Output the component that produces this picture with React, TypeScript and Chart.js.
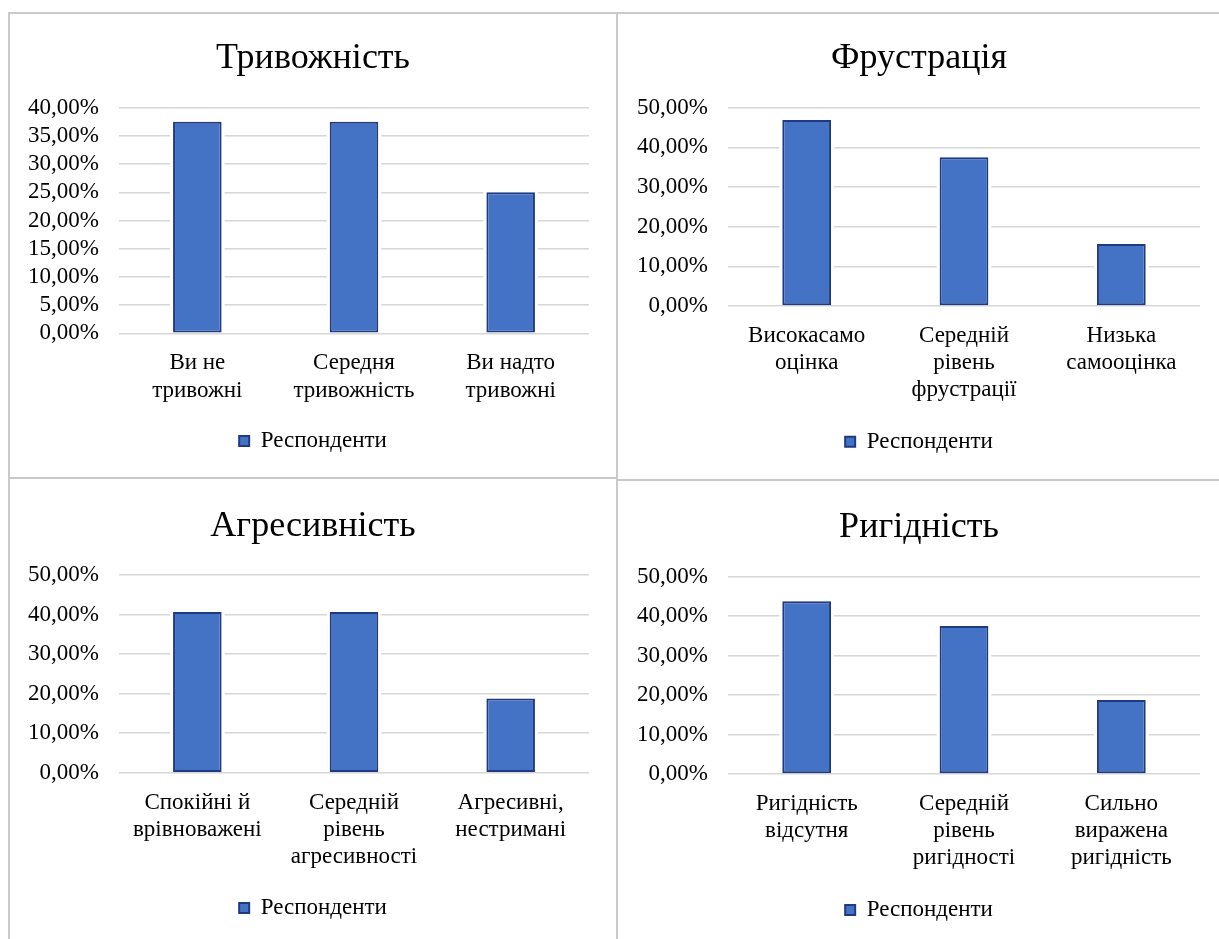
import React, { useEffect, useRef } from 'react';
import { Chart, registerables } from 'chart.js';

Chart.register(...registerables);

// ---- data ----
const seriesLabel = 'Респонденти';

const anxietyTitle = 'Тривожність';
const anxietyCategories = [['Ви не', 'тривожні'], ['Середня', 'тривожність'], ['Ви надто', 'тривожні']];
const anxietyValues = [37.5, 37.5, 25];
const anxietyMax = 40;
const anxietyStep = 5;

const frustrationTitle = 'Фрустрація';
const frustrationCategories = [['Високасамо', 'оцінка'], ['Середній', 'рівень', 'фрустрації'], ['Низька', 'самооцінка']];
const frustrationValues = [46.88, 37.5, 15.63];

const aggressionTitle = 'Агресивність';
const aggressionCategories = [['Спокійні й', 'врівноважені'], ['Середній', 'рівень', 'агресивності'], ['Агресивні,', 'нестримані']];
const aggressionValues = [40.63, 40.63, 18.75];

const rigidityTitle = 'Ригідність';
const rigidityCategories = [['Ригідність', 'відсутня'], ['Середній', 'рівень', 'ригідності'], ['Сильно', 'виражена', 'ригідність']];
const rigidityValues = [43.75, 37.5, 18.75];

const commonMax = 50;
const commonStep = 10;

// ---- styling ----
const FONT = '"Liberation Serif", "Times New Roman", serif';
const TEXT = '#000000';
const BAR_FILL = '#4472C4';
const BAR_EDGE = '#1F3A80';
const GRID = '#d6d6d6';
const FRAME = '#c9c9c9';

const formatPercent = (v: number | string) => Number(v).toFixed(2).replace('.', ',') + '%';

// white halo around each bar so the gridlines stop just short of it
const barHalo = {
  id: 'barHalo',
  beforeDatasetsDraw(chart: any) {
    const ctx = chart.ctx;
    const meta = chart.getDatasetMeta(0);
    ctx.save();
    ctx.fillStyle = '#ffffff';
    meta.data.forEach((el: any) => {
      const { x, y, base, width } = el.getProps(['x', 'y', 'base', 'width'], true);
      const gap = 3;
      ctx.fillRect(x - width / 2 - gap, y - gap, width + gap * 2, base - y + gap - 1.5);
    });
    ctx.restore();
  },
};

type PanelProps = {
  title: string;
  categories: string[][];
  values: number[];
  max: number;
  step: number;
  left: number;
  top: number;
  width: number;
  height: number;
  padTop: number;
  padRight: number;
  padBottom: number;
  xHeight: number;
};

function BarPanel(p: PanelProps) {
  const ref = useRef<HTMLCanvasElement | null>(null);

  useEffect(() => {
    if (!ref.current) return;
    const chart = new Chart(ref.current, {
      type: 'bar',
      data: {
        labels: p.categories,
        datasets: [
          {
            label: seriesLabel,
            data: p.values,
            backgroundColor: BAR_FILL,
            borderColor: BAR_EDGE,
            borderWidth: 2,
            borderSkipped: false,
            categoryPercentage: 1,
            barPercentage: 0.31,
          },
        ],
      },
      plugins: [barHalo],
      options: {
        animation: false,
        responsive: false,
        maintainAspectRatio: false,
        layout: { padding: { left: 0, top: p.padTop, right: 0, bottom: p.padBottom } },
        plugins: {
          title: {
            display: true,
            text: p.title,
            color: TEXT,
            font: { family: FONT, size: 36, weight: 'normal', lineHeight: 1.2 },
            padding: { top: 23.4, bottom: 27.1 },
          },
          legend: {
            display: true,
            position: 'bottom',
            labels: {
              color: TEXT,
              font: { family: FONT, size: 23 },
              boxWidth: 10,
              boxHeight: 10,
              padding: 20,
            },
          },
          tooltip: { enabled: false },
        },
        scales: {
          x: {
            grid: { display: false, drawTicks: false },
            border: { display: false },
            ticks: {
              color: TEXT,
              font: { family: FONT, size: 23, lineHeight: 1.18 },
              padding: 16.5,
              maxRotation: 0,
              minRotation: 0,
              autoSkip: false,
            },
            afterFit: (scale: any) => {
              scale.height = p.xHeight;
            },
          },
          y: {
            min: 0,
            max: p.max,
            border: { display: false },
            grid: { color: GRID, lineWidth: 1.6, drawTicks: false },
            ticks: {
              stepSize: p.step,
              color: TEXT,
              font: { family: FONT, size: 23 },
              padding: 20,
              autoSkip: false,
              callback: (v: any) => formatPercent(v),
            },
            afterFit: (scale: any) => {
              scale.width = 109;
            },
          },
          // empty right-hand spacer so the title and legend stay centred on the panel
          spacer: {
            type: 'linear',
            position: 'right',
            display: true,
            grid: { display: false, drawTicks: false },
            border: { display: false },
            ticks: { display: false },
            afterFit: (scale: any) => {
              scale.width = p.padRight;
            },
          },
        },
      },
    } as any);
    return () => chart.destroy();
  }, []);

  return (
    <canvas
      ref={ref}
      width={p.width}
      height={p.height}
      style={{ position: 'absolute', left: p.left, top: p.top, width: p.width, height: p.height }}
    />
  );
}

const line = (left: number, top: number, width: number, height: number) => (
  <div style={{ position: 'absolute', left, top, width, height, background: FRAME }} />
);

export default function App() {
  return (
    <div style={{ position: 'fixed', left: 0, top: 0, width: 1219, height: 939, overflow: 'hidden', background: '#ffffff' }}>
      <BarPanel
        title={anxietyTitle}
        categories={anxietyCategories}
        values={anxietyValues}
        max={anxietyMax}
        step={anxietyStep}
        left={10}
        top={14}
        width={606}
        height={463}
        padTop={0}
        padRight={27}
        padBottom={14.5}
        xHeight={76.2}
      />
      <BarPanel
        title={frustrationTitle}
        categories={frustrationCategories}
        values={frustrationValues}
        max={commonMax}
        step={commonStep}
        left={619}
        top={14}
        width={600}
        height={463}
        padTop={0}
        padRight={19}
        padBottom={13.8}
        xHeight={104.2}
      />
      <BarPanel
        title={aggressionTitle}
        categories={aggressionCategories}
        values={aggressionValues}
        max={commonMax}
        step={commonStep}
        left={10}
        top={481}
        width={606}
        height={458}
        padTop={0.3}
        padRight={27}
        padBottom={9.5}
        xHeight={103.8}
      />
      <BarPanel
        title={rigidityTitle}
        categories={rigidityCategories}
        values={rigidityValues}
        max={commonMax}
        step={commonStep}
        left={619}
        top={481}
        width={600}
        height={458}
        padTop={2}
        padRight={19}
        padBottom={7.5}
        xHeight={104.5}
      />
      {line(8, 12, 1211, 2)}
      {line(8, 12, 2, 927)}
      {line(616, 12, 2, 927)}
      {line(8, 477, 608, 2)}
      {line(618, 479, 601, 2)}
    </div>
  );
}
